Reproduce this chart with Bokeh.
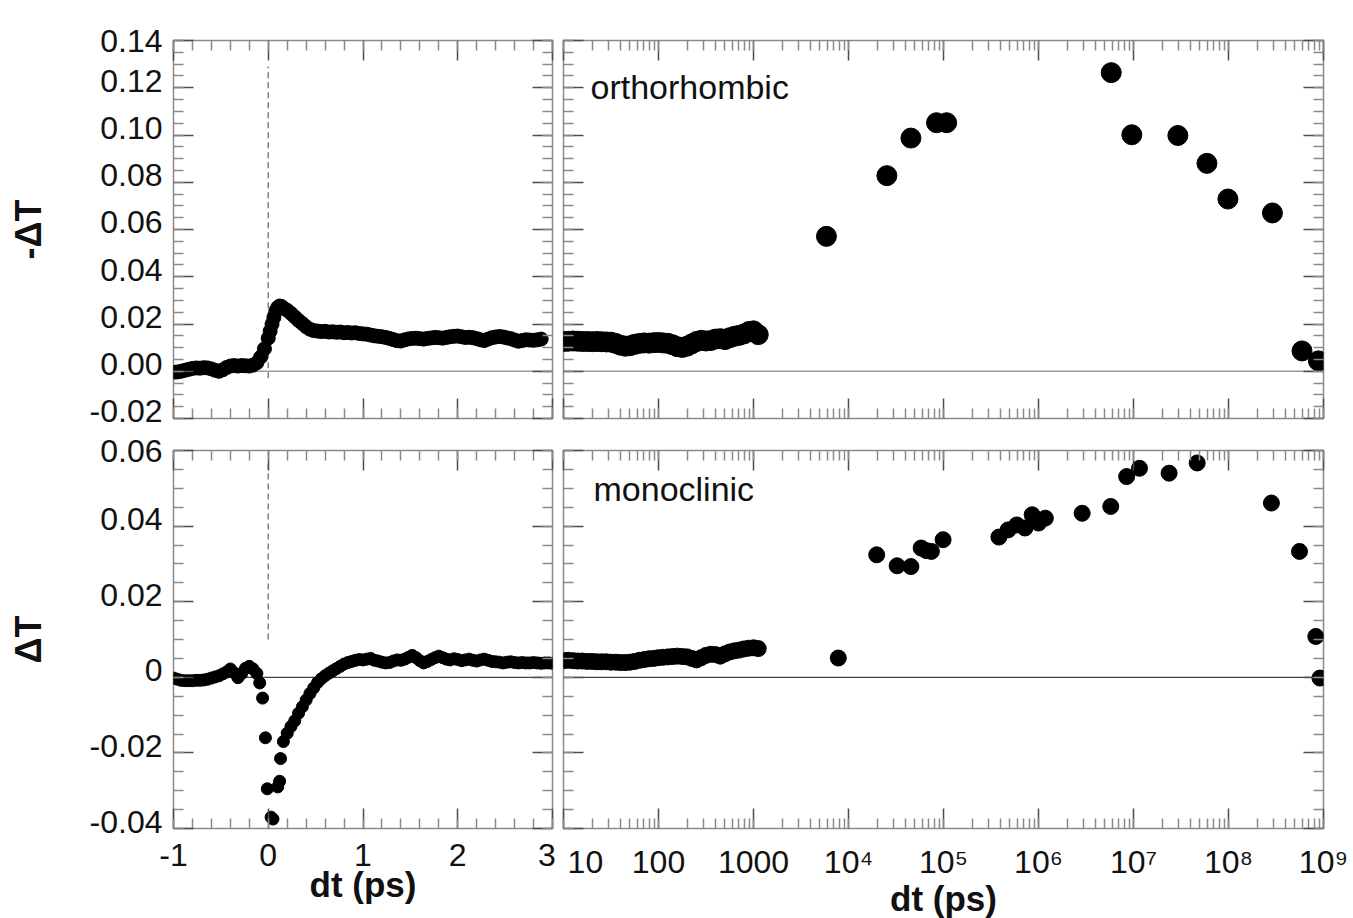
from bokeh.plotting import figure
from bokeh.layouts import column, row
from bokeh.models import (FixedTicker, LinearAxis, LogAxis, Span, Label,
                          CustomJSTickFormatter, Range1d)
from bokeh.embed import file_html
from bokeh.resources import INLINE

FONT = "Liberation Sans"

# ---------------- data: orthorhombic, fast (linear ps) ----------------
t_ortho_fast = [-1.00, -0.96, -0.92, -0.88, -0.84, -0.80, -0.76, -0.72, -0.68, -0.64,
                -0.60, -0.56, -0.52, -0.48, -0.44, -0.40, -0.36, -0.32, -0.28, -0.24,
                -0.20, -0.16, -0.12, -0.08, -0.04, 0.00, 0.02, 0.04, 0.06, 0.08,
                0.10, 0.12, 0.14, 0.16, 0.20, 0.24, 0.28, 0.32, 0.36, 0.40,
                0.44, 0.48, 0.52, 0.56, 0.60, 0.64, 0.68, 0.72, 0.76, 0.80,
                0.84, 0.88, 0.92, 0.96, 1.00, 1.04, 1.08, 1.12, 1.16, 1.20,
                1.24, 1.28, 1.32, 1.36, 1.40, 1.44, 1.48, 1.52, 1.56, 1.60,
                1.64, 1.68, 1.72, 1.76, 1.80, 1.84, 1.88, 1.92, 1.96, 2.00,
                2.04, 2.08, 2.12, 2.16, 2.20, 2.24, 2.28, 2.32, 2.36, 2.40,
                2.44, 2.48, 2.52, 2.56, 2.60, 2.64, 2.68, 2.72, 2.76, 2.80,
                2.84, 2.88]
mdT_ortho_fast = [-0.0004, -0.0003, 0.0000, 0.0004, 0.0008, 0.0012, 0.0014, 0.0013, 0.0015, 0.0014,
                  0.0010, 0.0004, 0.0000, 0.0006, 0.0016, 0.0022, 0.0024, 0.0022, 0.0024, 0.0023,
                  0.0022, 0.0026, 0.0036, 0.0060, 0.0095, 0.0140, 0.0170, 0.0200, 0.0228, 0.0255,
                  0.0270, 0.0276, 0.0274, 0.0268, 0.0258, 0.0245, 0.0230, 0.0215, 0.0202, 0.0188,
                  0.0178, 0.0172, 0.0170, 0.0168, 0.0169, 0.0166, 0.0167, 0.0165, 0.0166, 0.0163,
                  0.0164, 0.0162, 0.0163, 0.0160, 0.0158, 0.0157, 0.0153, 0.0150, 0.0148, 0.0146,
                  0.0143, 0.0139, 0.0134, 0.0129, 0.0128, 0.0133, 0.0137, 0.0139, 0.0140, 0.0138,
                  0.0136, 0.0139, 0.0141, 0.0143, 0.0142, 0.0140, 0.0143, 0.0146, 0.0148, 0.0149,
                  0.0146, 0.0143, 0.0144, 0.0142, 0.0138, 0.0133, 0.0130, 0.0136, 0.0142, 0.0145,
                  0.0147, 0.0145, 0.0141, 0.0138, 0.0132, 0.0127, 0.0130, 0.0133, 0.0132, 0.0131,
                  0.0133, 0.0136]

# ---------------- data: monoclinic, fast (linear ps) ----------------
t_mono_fast = [-1.00, -0.96, -0.92, -0.88, -0.84, -0.80, -0.76, -0.72, -0.68, -0.64,
               -0.60, -0.56, -0.52, -0.48, -0.44, -0.40, -0.36, -0.32, -0.28, -0.24,
               -0.20, -0.16, -0.12, -0.09, -0.06, -0.03, -0.01, 0.03, 0.05, 0.10,
               0.12, 0.13, 0.16, 0.20, 0.24, 0.28, 0.32, 0.36, 0.40, 0.44,
               0.48, 0.52, 0.56, 0.60, 0.64, 0.68, 0.72, 0.76, 0.80, 0.84,
               0.88, 0.92, 0.96, 1.00, 1.04, 1.08, 1.12, 1.16, 1.20, 1.24,
               1.28, 1.32, 1.36, 1.40, 1.44, 1.48, 1.52, 1.56, 1.60, 1.64,
               1.68, 1.72, 1.76, 1.80, 1.84, 1.88, 1.92, 1.96, 2.00, 2.04,
               2.08, 2.12, 2.16, 2.20, 2.24, 2.28, 2.32, 2.36, 2.40, 2.44,
               2.48, 2.52, 2.56, 2.60, 2.64, 2.68, 2.72, 2.76, 2.80, 2.84,
               2.88, 2.92, 2.96, 3.00]
dT_mono_fast = [-0.0002, -0.0005, -0.0008, -0.0009, -0.0009, -0.0009, -0.0008, -0.0008, -0.0007, -0.0005,
                -0.0002, 0.0001, 0.0004, 0.0009, 0.0014, 0.0022, 0.0012, -0.0001, 0.0010, 0.0024,
                0.0029, 0.0022, 0.0010, -0.0015, -0.0055, -0.0160, -0.0295, -0.0370, -0.0375, -0.0290,
                -0.0275, -0.0215, -0.0170, -0.0148, -0.0130, -0.0115, -0.0095, -0.0078, -0.0060, -0.0043,
                -0.0028, -0.0014, -0.0004, 0.0004, 0.0011, 0.0017, 0.0023, 0.0029, 0.0035, 0.0039,
                0.0042, 0.0045, 0.0047, 0.0046, 0.0048, 0.0050, 0.0045, 0.0043, 0.0040, 0.0038,
                0.0039, 0.0043, 0.0046, 0.0045, 0.0048, 0.0053, 0.0058, 0.0052, 0.0044, 0.0038,
                0.0042, 0.0047, 0.0052, 0.0056, 0.0052, 0.0048, 0.0046, 0.0049, 0.0047, 0.0044,
                0.0046, 0.0048, 0.0045, 0.0043, 0.0046, 0.0048, 0.0045, 0.0042, 0.0041, 0.0040,
                0.0038, 0.0040, 0.0041, 0.0039, 0.0038, 0.0039, 0.0038, 0.0038, 0.0039, 0.0038,
                0.0037, 0.0038, 0.0038, 0.0037]

# ---------------- data: orthorhombic, slow (log ps) ----------------
t_ortho_slow = [10, 11.2, 12.6, 14.1, 15.8, 17.8, 20, 22.4, 25.1, 28.2,
                31.6, 35.5, 39.8, 44.7, 50.1, 56.2, 63.1, 70.8, 79.4, 89.1,
                100, 112, 126, 141, 158, 178, 200, 224, 251, 282,
                316, 355, 398, 447, 501, 562, 631, 708, 794, 891,
                1000, 1122,
                5860, 25350, 45400, 84400, 108000, 5.83e6, 9.6e6, 2.93e7, 5.93e7, 9.86e7,
                2.9e8, 5.94e8, 8.84e8]
mdT_ortho_slow = [0.0126, 0.0127, 0.0128, 0.0127, 0.0126, 0.0126, 0.0125, 0.0126, 0.0125, 0.0124,
                  0.0123, 0.0118, 0.0110, 0.0106, 0.0108, 0.0114, 0.0118, 0.0120, 0.0119, 0.0121,
                  0.0122, 0.0120, 0.0118, 0.0112, 0.0104, 0.0101, 0.0106, 0.0116, 0.0126, 0.0131,
                  0.0128, 0.0130, 0.0136, 0.0138, 0.0134, 0.0142, 0.0148, 0.0152, 0.0158, 0.0168,
                  0.0171, 0.0155,
                  0.0571, 0.0828, 0.0987, 0.1052, 0.1052, 0.1264, 0.1001, 0.0998, 0.0880, 0.0729,
                  0.0670, 0.0086, 0.0044]

# ---------------- data: monoclinic, slow (log ps) ----------------
t_mono_slow = [10, 11.2, 12.6, 14.1, 15.8, 17.8, 20, 22.4, 25.1, 28.2,
               31.6, 35.5, 39.8, 44.7, 50.1, 56.2, 63.1, 70.8, 79.4, 89.1,
               100, 112, 126, 141, 158, 178, 200, 224, 251, 282,
               316, 355, 398, 447, 501, 562, 631, 708, 794, 891,
               1000, 1122,
               7810, 19800, 32500, 45400, 58200, 66000, 74600, 99000,
               3.83e5, 4.79e5, 5.91e5, 7.2e5, 8.57e5, 1.0e6, 1.18e6, 2.88e6, 5.76e6, 8.47e6,
               1.156e7, 2.37e7, 4.68e7, 2.83e8, 5.59e8, 8.3e8, 9.17e8]
dT_mono_slow = [0.0044, 0.0045, 0.0044, 0.0043, 0.0043, 0.0042, 0.0042, 0.0041, 0.0041, 0.0041,
                0.0040, 0.0040, 0.0039, 0.0039, 0.0040, 0.0042, 0.0045, 0.0047, 0.0049, 0.0050,
                0.0052, 0.0053, 0.0054, 0.0055, 0.0056, 0.0055, 0.0054, 0.0050, 0.0046, 0.0052,
                0.0058, 0.0061, 0.0060, 0.0056, 0.0062, 0.0067, 0.0070, 0.0072, 0.0075, 0.0077,
                0.0078, 0.0076,
                0.0051, 0.0324, 0.0295, 0.0293, 0.0342, 0.0335, 0.0333, 0.0364,
                0.0371, 0.0390, 0.0403, 0.0395, 0.0430, 0.0408, 0.0421, 0.0434, 0.0452, 0.0531,
                0.0553, 0.0540, 0.0567, 0.0461, 0.0333, 0.0108, -0.0002]

# ---------------- ticks & labels ----------------
x_lin_ticks = [-1, 0, 1, 2, 3]
x_lin_minor = [-1.0, -0.8, -0.6, -0.4, -0.2, 0.0, 0.2, 0.4, 0.6, 0.8, 1.0, 1.2, 1.4, 1.6,
               1.8, 2.0, 2.2, 2.4, 2.6, 2.8, 3.0]
x_lin_labels = ["-1", "0", "1", "2", "3"]
x_lin_label_pos = [-1, 0, 1, 2, 2.94]          # "3" nudged left of the panel edge
x_log_ticks = [10, 100, 1000, 10**4, 10**5, 10**6, 10**7, 10**8, 10**9]
x_log_minor = [m * 10**e for e in range(1, 9) for m in range(1, 10)] + [10**9]
x_log_labels = ["10", "100", "1000", "10\u2074", "10\u2075", "10\u2076", "10\u2077",
                "10\u2078", "10\u2079"]
x_log_label_pos = [17, 100, 1000, 10**4, 10**5, 10**6, 10**7, 10**8, 10**9]  # "10" nudged right
y_top_ticks = [-0.02, 0, 0.02, 0.04, 0.06, 0.08, 0.10, 0.12, 0.14]
y_top_minor = [round(-0.02 + 0.005 * i, 3) for i in range(33)]
y_top_labels = ["-0.02", "0.00", "0.02", "0.04", "0.06", "0.08", "0.10", "0.12", "0.14"]
y_top_label_pos = [-0.017, 0.003, 0.023, 0.043, 0.063, 0.083, 0.103, 0.123, 0.14]
y_bot_ticks = [-0.04, -0.02, 0, 0.02, 0.04, 0.06]
y_bot_minor = [round(-0.04 + 0.005 * i, 3) for i in range(21)]
y_bot_labels = ["-0.04", "-0.02", "0", "0.02", "0.04", "0.06"]
y_bot_label_pos = [-0.0382, -0.0182, 0.0018, 0.0218, 0.0418, 0.06]

LOOKUP_JS = """
let best = 0, bd = Infinity;
for (let i = 0; i < tk.length; i++) {
  const a = uselog ? Math.log10(tk[i]) : tk[i];
  const b = uselog ? Math.log10(tick) : tick;
  const d = Math.abs(a - b);
  if (d < bd) { bd = d; best = i; }
}
return lb[best];
"""
EMPTY_JS = "return '';"

MAJOR_C = "#4d4d4d"
MINOR_C = "#8a8a8a"
FRAME_C = "#8a8a8a"
TEXT_C = "#111111"
TICK_FS = "32px"


def tick_axis(ax, ticker):
    """Axis that only draws inward major/minor tick marks at the frame edge."""
    ax.ticker = ticker
    ax.axis_line_color = None
    ax.major_tick_in = 20
    ax.major_tick_out = 0
    ax.minor_tick_in = 10
    ax.minor_tick_out = 0
    ax.major_tick_line_color = MAJOR_C
    ax.minor_tick_line_color = MINOR_C
    ax.major_tick_line_width = 1.5
    ax.minor_tick_line_width = 1.5
    ax.formatter = CustomJSTickFormatter(code=EMPTY_JS)
    ax.major_label_text_font_size = "0px"
    ax.major_label_standoff = 0


def label_axis(ax, pos, labels, uselog, standoff):
    """Axis that only draws the tick labels (no tick marks)."""
    ax.ticker = FixedTicker(ticks=pos, minor_ticks=[])
    ax.axis_line_color = None
    ax.major_tick_in = 0
    ax.major_tick_out = 0
    ax.minor_tick_in = 0
    ax.minor_tick_out = 0
    ax.major_tick_line_color = None
    ax.minor_tick_line_color = None
    ax.formatter = CustomJSTickFormatter(
        args=dict(tk=list(pos), lb=list(labels), uselog=uselog), code=LOOKUP_JS)
    ax.major_label_text_font = FONT
    ax.major_label_text_font_size = TICK_FS
    ax.major_label_text_color = TEXT_C
    ax.major_label_standoff = standoff


def make_panel(xlog, x_rng, y_rng, fw, fh, bl, br, bt, bb,
               show_x, show_y, yt, yminor, ylabels, ylabel_pos):
    p = figure(width=bl + fw + br, height=bt + fh + bb, frame_width=fw, frame_height=fh,
               x_axis_type="log" if xlog else "linear",
               x_range=Range1d(*x_rng), y_range=Range1d(*y_rng),
               output_backend="svg", toolbar_location=None, tools="",
               min_border_left=bl, min_border_right=br,
               min_border_top=bt, min_border_bottom=bb)
    p.xgrid.visible = False
    p.ygrid.visible = False
    p.outline_line_color = FRAME_C
    p.outline_line_width = 1.5
    p.background_fill_color = "white"
    p.border_fill_color = "white"
    XAxis = LogAxis if xlog else LinearAxis
    if xlog:
        xt, xminor, xlabels, xpos = x_log_ticks, x_log_minor, x_log_labels, x_log_label_pos
    else:
        xt, xminor, xlabels, xpos = x_lin_ticks, x_lin_minor, x_lin_labels, x_lin_label_pos
    p.add_layout(XAxis(), "above")
    p.add_layout(LinearAxis(), "right")
    xtick = FixedTicker(ticks=xt, minor_ticks=xminor)
    ytick = FixedTicker(ticks=yt, minor_ticks=yminor)
    tick_axis(p.below[0], xtick)
    tick_axis(p.above[0], xtick)
    tick_axis(p.left[0], ytick)
    tick_axis(p.right[0], ytick)
    xl_ax = yl_ax = None
    if show_x:
        xl_ax = XAxis()
        p.add_layout(xl_ax, "below")
        label_axis(xl_ax, xpos, xlabels, xlog, 15)
    if show_y:
        yl_ax = LinearAxis()
        p.add_layout(yl_ax, "left")
        label_axis(yl_ax, ylabel_pos, ylabels, False, 11)
    return p, xl_ax, yl_ax


FW_L, FW_R, FH = 379, 760, 378
BL_L, BR_L, BL_R, BR_R = 173, 6, 5, 30
BT1, BB1, BT2, BB2 = 40, 13, 19, 90

x_fast_range = (-1, 3)
x_slow_range = (10, 1e9)
y_top_range = (-0.02, 0.14)
y_bot_range = (-0.04, 0.06)

p_tl, _, yax_tl = make_panel(False, x_fast_range, y_top_range, FW_L, FH, BL_L, BR_L, BT1, BB1,
                             False, True, y_top_ticks, y_top_minor, y_top_labels, y_top_label_pos)
p_tr, _, _ = make_panel(True, x_slow_range, y_top_range, FW_R, FH, BL_R, BR_R, BT1, BB1,
                        False, False, y_top_ticks, y_top_minor, y_top_labels, y_top_label_pos)
p_bl, xax_bl, yax_bl = make_panel(False, x_fast_range, y_bot_range, FW_L, FH, BL_L, BR_L, BT2, BB2,
                                  True, True, y_bot_ticks, y_bot_minor, y_bot_labels, y_bot_label_pos)
p_br, xax_br, _ = make_panel(True, x_slow_range, y_bot_range, FW_R, FH, BL_R, BR_R, BT2, BB2,
                             True, False, y_bot_ticks, y_bot_minor, y_bot_labels, y_bot_label_pos)

# axis titles
for ax, lab in ((yax_tl, "-\u0394T"), (yax_bl, "\u0394T")):
    ax.axis_label = lab
    ax.axis_label_text_font = FONT
    ax.axis_label_text_font_size = "36px"
    ax.axis_label_text_font_style = "bold"
    ax.axis_label_text_color = TEXT_C
    ax.axis_label_standoff = 38
for ax in (xax_bl, xax_br):
    ax.axis_label = "dt (ps)"
    ax.axis_label_text_font = FONT
    ax.axis_label_text_font_size = "35px"
    ax.axis_label_text_font_style = "bold"
    ax.axis_label_text_color = TEXT_C
    ax.axis_label_standoff = -4

# reference lines
for p, c, w in ((p_tl, "#9a9a9a", 1.5), (p_tr, "#9a9a9a", 1.5),
                (p_bl, "#444444", 1.3), (p_br, "#444444", 1.3)):
    p.add_layout(Span(location=0, dimension="width", line_color=c, line_width=w, level="underlay"))

dash_top = (-0.003, 0.129)
dash_bot = (0.010, 0.057)
p_tl.segment(x0=[0], y0=[dash_top[0]], x1=[0], y1=[dash_top[1]], line_color="#808080",
             line_width=1.5, line_dash="6 4")
p_bl.segment(x0=[0], y0=[dash_bot[0]], x1=[0], y1=[dash_bot[1]], line_color="#808080",
             line_width=1.5, line_dash="6 4")

# data
p_tl.scatter(t_ortho_fast, mdT_ortho_fast, size=14, color="black")
p_bl.scatter(t_mono_fast, dT_mono_fast, size=12, color="black")
p_tr.scatter(t_ortho_slow, mdT_ortho_slow, size=20, color="black")
p_br.scatter(t_mono_slow, dT_mono_slow, size=16, color="black")

# phase labels
p_tr.add_layout(Label(x=x_slow_range[0], y=y_top_range[1], x_offset=27, y_offset=-46,
                      text="orthorhombic", text_font=FONT, text_font_size="34px",
                      text_baseline="alphabetic", text_color=TEXT_C))
p_br.add_layout(Label(x=x_slow_range[0], y=y_bot_range[1], x_offset=30, y_offset=-38,
                      text="monoclinic", text_font=FONT, text_font_size="34px",
                      text_baseline="alphabetic", text_color=TEXT_C))

layout = column(row(p_tl, p_tr), row(p_bl, p_br))
open("out.html", "w", encoding="utf-8").write(file_html(layout, INLINE))
